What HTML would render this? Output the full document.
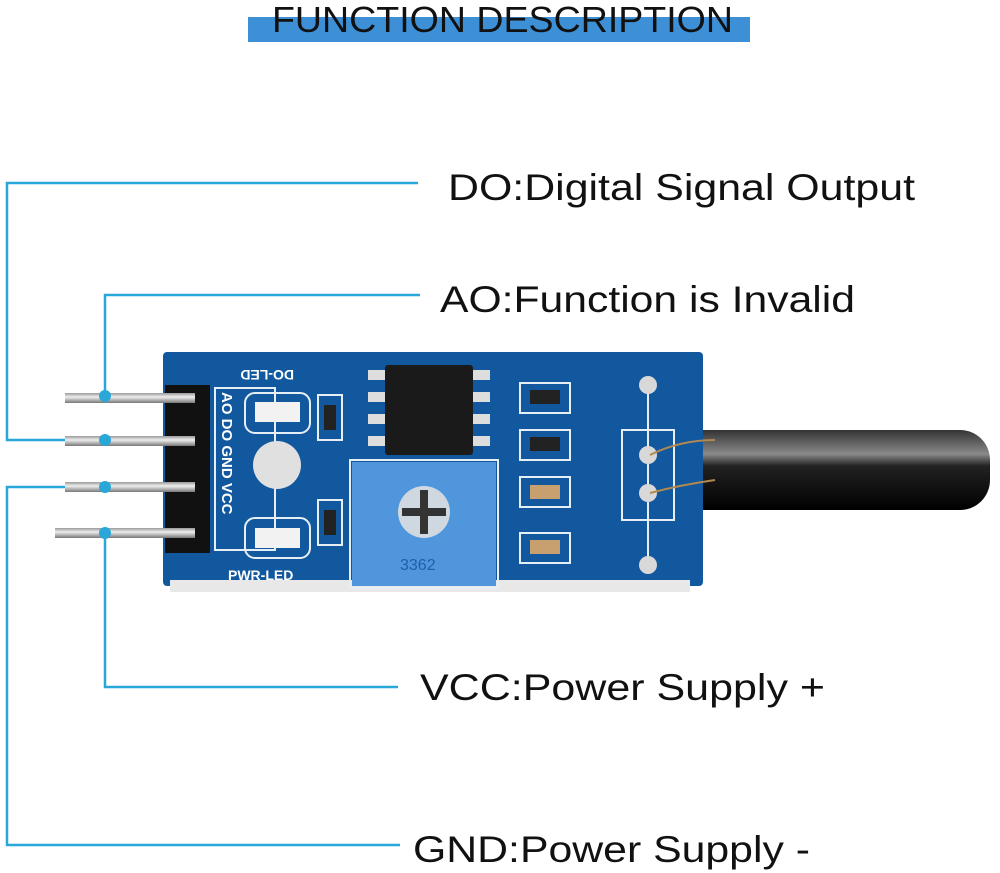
<!DOCTYPE html>
<html><head><meta charset="utf-8"><style>
html,body{margin:0;padding:0;background:#fff;}
svg{display:block;}
text{font-family:"Liberation Sans",sans-serif;}
</style></head><body>
<svg width="1000" height="873" viewBox="0 0 1000 873" xmlns="http://www.w3.org/2000/svg">
<defs>
<linearGradient id="tube" x1="0" y1="0" x2="0" y2="1">
<stop offset="0" stop-color="#333"/><stop offset="0.3" stop-color="#8a8a8a"/><stop offset="0.45" stop-color="#222"/><stop offset="1" stop-color="#000"/>
</linearGradient>
<linearGradient id="pin" x1="0" y1="0" x2="0" y2="1">
<stop offset="0" stop-color="#999"/><stop offset="0.4" stop-color="#eee"/><stop offset="1" stop-color="#777"/>
</linearGradient>
</defs>
<rect x="248" y="17" width="502" height="25" fill="#3d8fd6"/>
<text x="272" y="32" font-size="36" textLength="461" lengthAdjust="spacingAndGlyphs" fill="#111">FUNCTION DESCRIPTION</text>

<g stroke="#2aa7d9" stroke-width="2.5" fill="none">
<polyline points="418,183 7,183 7,440 105,440"/>
<polyline points="420,295 105,295 105,396"/>
<polyline points="105,487 7,487 7,845 400,845"/>
<polyline points="105,533 105,687 398,687"/>
</g>

<text x="448" y="200" font-size="37" textLength="467" lengthAdjust="spacingAndGlyphs" fill="#111">DO:Digital Signal Output</text>
<text x="440" y="312" font-size="37" textLength="415" lengthAdjust="spacingAndGlyphs" fill="#111">AO:Function is Invalid</text>
<text x="420" y="700" font-size="37" textLength="405" lengthAdjust="spacingAndGlyphs" fill="#111">VCC:Power Supply +</text>
<text x="413" y="862" font-size="37" textLength="397" lengthAdjust="spacingAndGlyphs" fill="#111">GND:Power Supply -</text>

<rect x="690" y="430" width="300" height="80" rx="30" fill="url(#tube)"/>
<rect x="690" y="430" width="40" height="80" fill="url(#tube)"/>

<rect x="163" y="352" width="540" height="234" rx="4" fill="#12589e"/>
<rect x="170" y="580" width="520" height="12" fill="#e8e8e8"/>
<g stroke="#e6eef6" stroke-width="2" fill="none">
<rect x="215" y="388" width="60" height="162"/>
<rect x="245" y="393" width="65" height="40" rx="10"/>
<rect x="245" y="518" width="65" height="40" rx="10"/>
<rect x="318" y="395" width="24" height="45"/>
<rect x="318" y="500" width="24" height="45"/>
<rect x="520" y="383" width="50" height="30"/>
<rect x="520" y="430" width="50" height="30"/>
<rect x="520" y="477" width="50" height="30"/>
<rect x="520" y="533" width="50" height="30"/>
<rect x="622" y="430" width="52" height="90"/>
<line x1="648" y1="380" x2="648" y2="560"/>
<rect x="350" y="460" width="148" height="128"/>
</g>
<circle cx="277" cy="465" r="24" fill="#e0e0e0"/>
<rect x="255" y="402" width="45" height="20" fill="#f2f2f2"/>
<rect x="255" y="528" width="45" height="20" fill="#f2f2f2"/>
<rect x="324" y="405" width="12" height="25" fill="#222"/>
<rect x="324" y="510" width="12" height="25" fill="#222"/>
<rect x="530" y="390" width="30" height="14" fill="#222"/>
<rect x="530" y="437" width="30" height="14" fill="#222"/>
<rect x="530" y="485" width="30" height="14" fill="#c8a070"/>
<rect x="530" y="540" width="30" height="14" fill="#c8a070"/>
<g fill="#ddd">
<rect x="368" y="370" width="30" height="10"/><rect x="368" y="392" width="30" height="10"/><rect x="368" y="414" width="30" height="10"/><rect x="368" y="436" width="30" height="10"/>
<rect x="460" y="370" width="30" height="10"/><rect x="460" y="392" width="30" height="10"/><rect x="460" y="414" width="30" height="10"/><rect x="460" y="436" width="30" height="10"/>
</g>
<rect x="385" y="365" width="88" height="90" rx="3" fill="#1a1a1a"/>
<rect x="352" y="462" width="144" height="124" fill="#4f96dc"/>
<circle cx="424" cy="512" r="26" fill="#cfd8e0"/>
<rect x="420" y="490" width="8" height="44" fill="#333"/>
<rect x="402" y="508" width="44" height="8" fill="#333"/>
<text x="400" y="570" font-size="16" fill="#1e5fae">3362</text>
<circle cx="648" cy="385" r="9" fill="#d8d8d8"/>
<circle cx="648" cy="455" r="9" fill="#d8d8d8"/>
<circle cx="648" cy="493" r="9" fill="#d8d8d8"/>
<circle cx="648" cy="565" r="9" fill="#d8d8d8"/>
<text x="230" y="380" font-size="14" font-weight="bold" fill="#fff" transform="rotate(180 262 375)">DO-LED</text>
<text x="228" y="580" font-size="14" font-weight="bold" fill="#fff">PWR-LED</text>
<text x="0" y="0" font-size="15" font-weight="bold" fill="#fff" transform="translate(222,392) rotate(90)">AO   DO GND VCC</text>

<rect x="165" y="385" width="45" height="168" fill="#111"/>
<rect x="65" y="393" width="130" height="10" fill="url(#pin)"/>
<rect x="65" y="436" width="130" height="10" fill="url(#pin)"/>
<rect x="65" y="482" width="130" height="10" fill="url(#pin)"/>
<rect x="55" y="528" width="140" height="10" fill="url(#pin)"/>

<g fill="#2aa7d9">
<circle cx="105" cy="396" r="6"/>
<circle cx="105" cy="440" r="6"/>
<circle cx="105" cy="487" r="6"/>
<circle cx="105" cy="533" r="6"/>
</g>
<path d="M650 455 Q680 440 715 440" stroke="#b08850" stroke-width="2" fill="none"/>
<path d="M650 493 Q680 485 715 480" stroke="#b08850" stroke-width="2" fill="none"/>
</svg>
</body></html>
